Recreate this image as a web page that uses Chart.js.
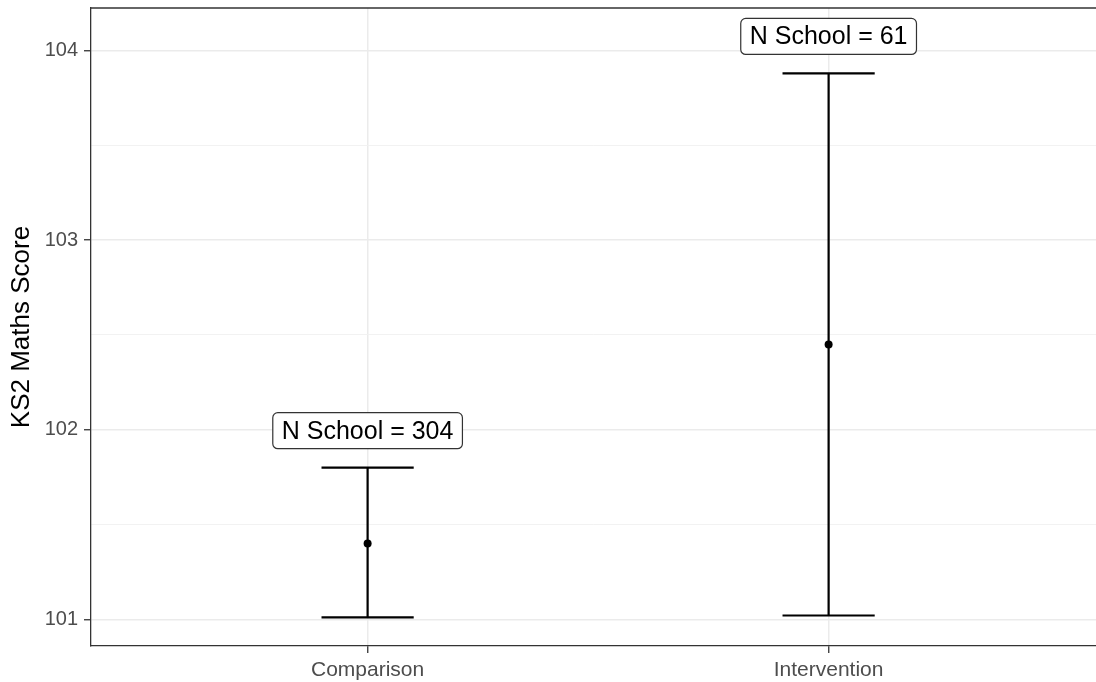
<!DOCTYPE html>
<html>
<head>
<meta charset="utf-8">
<script src="https://cdn.jsdelivr.net/npm/chart.js@4.4.1/dist/chart.umd.min.js"></script>
<style>
  html, body { margin: 0; padding: 0; background: #fff; overflow: hidden; width: 1096px; height: 682px; }
</style>
</head>
<body>
<canvas id="scoreChart" width="1100" height="682"></canvas>
<script>
'use strict';
const groups = ['Comparison', 'Intervention'];
const means = [101.40, 102.45];
const lowers = [101.01, 101.02];
const uppers = [101.80, 103.88];
const nSchools = [304, 61];
const yTicks = [101, 101.5, 102, 102.5, 103, 103.5, 104];

const fontFamily = "'Liberation Sans', Arial, sans-serif";
const capHalf = 0.1;     // half width of the error bar caps, in x units
const labelNudge = 0.195;  // label above the upper whisker, in y units

// error bar segments, split with nulls so the line breaks between them
const barData = [];
groups.forEach(function (g, i) {
    let x = i + 1;
    barData.push({x: x, y: lowers[i]}, {x: x, y: uppers[i]}, {x: x, y: null});
    barData.push({x: x - capHalf, y: uppers[i]}, {x: x + capHalf, y: uppers[i]}, {x: x, y: null});
    barData.push({x: x - capHalf, y: lowers[i]}, {x: x + capHalf, y: lowers[i]}, {x: x, y: null});
});
const meanData = groups.map((g, i) => ({x: i + 1, y: means[i]}));

const panelBorder = {
    id: 'panelBorder',
    afterDraw(chart) {
        const {ctx, chartArea} = chart;
        ctx.save();
        ctx.strokeStyle = '#333333';
        ctx.lineWidth = 1.3;
        ctx.beginPath();
        ctx.moveTo(chartArea.left, chartArea.top);
        ctx.lineTo(chart.width, chartArea.top);
        ctx.stroke();
        ctx.restore();
    }
};

const nLabels = {
    id: 'nLabels',
    afterDatasetsDraw(chart) {
        const {ctx} = chart;
        const xs = chart.scales.x, ys = chart.scales.y;
        ctx.save();
        ctx.font = '25px ' + fontFamily;
        ctx.textAlign = 'center';
        ctx.textBaseline = 'middle';
        groups.forEach(function (g, i) {
            let txt = `N School = ${nSchools[i]}`;
            let px = xs.getPixelForValue(i + 1);
            let py = ys.getPixelForValue(uppers[i] + labelNudge);
            let w = ctx.measureText(txt).width + 18;
            let h = 36;
            ctx.beginPath();
            ctx.roundRect(px - w / 2, py - h / 2, w, h, 5);
            ctx.fillStyle = '#ffffff';
            ctx.fill();
            ctx.lineWidth = 1.2;
            ctx.strokeStyle = '#333333';
            ctx.stroke();
            ctx.fillStyle = '#000000';
            ctx.fillText(txt, px, py + 1);
        });
        ctx.restore();
    }
};

const isMajor = v => Math.abs(v - Math.round(v)) < 1e-6;

const ctx = document.getElementById('scoreChart').getContext('2d');
const chart = new Chart(ctx, {
    type: 'scatter',
    data: {
        datasets: [{
            label: 'error bars',
            data: barData,
            showLine: true,
            spanGaps: false,
            borderColor: '#000000',
            borderWidth: 2.2,
            pointRadius: 0,
            pointHoverRadius: 0
        }, {
            label: 'mean',
            data: meanData,
            backgroundColor: '#000000',
            borderWidth: 0,
            pointRadius: 4
        }]
    },
    options: {
        responsive: false,
        animation: false,
        devicePixelRatio: 1,
        layout: {padding: {top: 8, right: 0, bottom: 0, left: 0}},
        plugins: {legend: {display: false}, tooltip: {enabled: false}},
        scales: {
            x: {
                type: 'linear',
                min: 0.4,
                max: 2.58,
                afterBuildTicks: function (scale) {
                    scale.ticks = groups.map((g, i) => ({value: i + 1}));
                },
                afterFit: function (scale) {
                    scale.height = 36;
                    scale.paddingLeft = 0;
                    scale.paddingRight = 0;
                },
                ticks: {
                    callback: value => groups[Math.round(value) - 1],
                    color: '#4D4D4D',
                    font: {family: fontFamily, size: 21},
                    padding: 5,
                    maxRotation: 0
                },
                grid: {color: '#EBEBEB', lineWidth: 1.5, tickColor: '#333333', tickWidth: 1.3, tickLength: 7},
                border: {display: true, color: '#333333', width: 1.3}
            },
            y: {
                min: 100.859,
                max: 104.225,
                afterBuildTicks: function (scale) {
                    scale.ticks = yTicks.map(v => ({value: v}));
                },
                afterFit: function (scale) {
                    scale.width = 91;
                    scale.paddingTop = 0;
                    scale.paddingBottom = 0;
                },
                ticks: {
                    callback: value => isMajor(value) ? String(Math.round(value)) : '',
                    color: '#4D4D4D',
                    font: {family: fontFamily, size: 20},
                    padding: 6
                },
                grid: {
                    color: c => isMajor(c.tick.value) ? '#EBEBEB' : '#F0F0F0',
                    lineWidth: c => isMajor(c.tick.value) ? 1.5 : 0.9,
                    tickColor: c => isMajor(c.tick.value) ? '#333333' : 'rgba(0,0,0,0)',
                    tickWidth: 1.3,
                    tickLength: 7
                },
                border: {display: true, color: '#333333', width: 1.3},
                title: {
                    display: true,
                    text: 'KS2 Maths Score',
                    color: '#000000',
                    font: {family: fontFamily, size: 26},
                    padding: {top: 6, bottom: 0}
                }
            }
        }
    },
    plugins: [panelBorder, nLabels]
});
</script>
</body>
</html>
